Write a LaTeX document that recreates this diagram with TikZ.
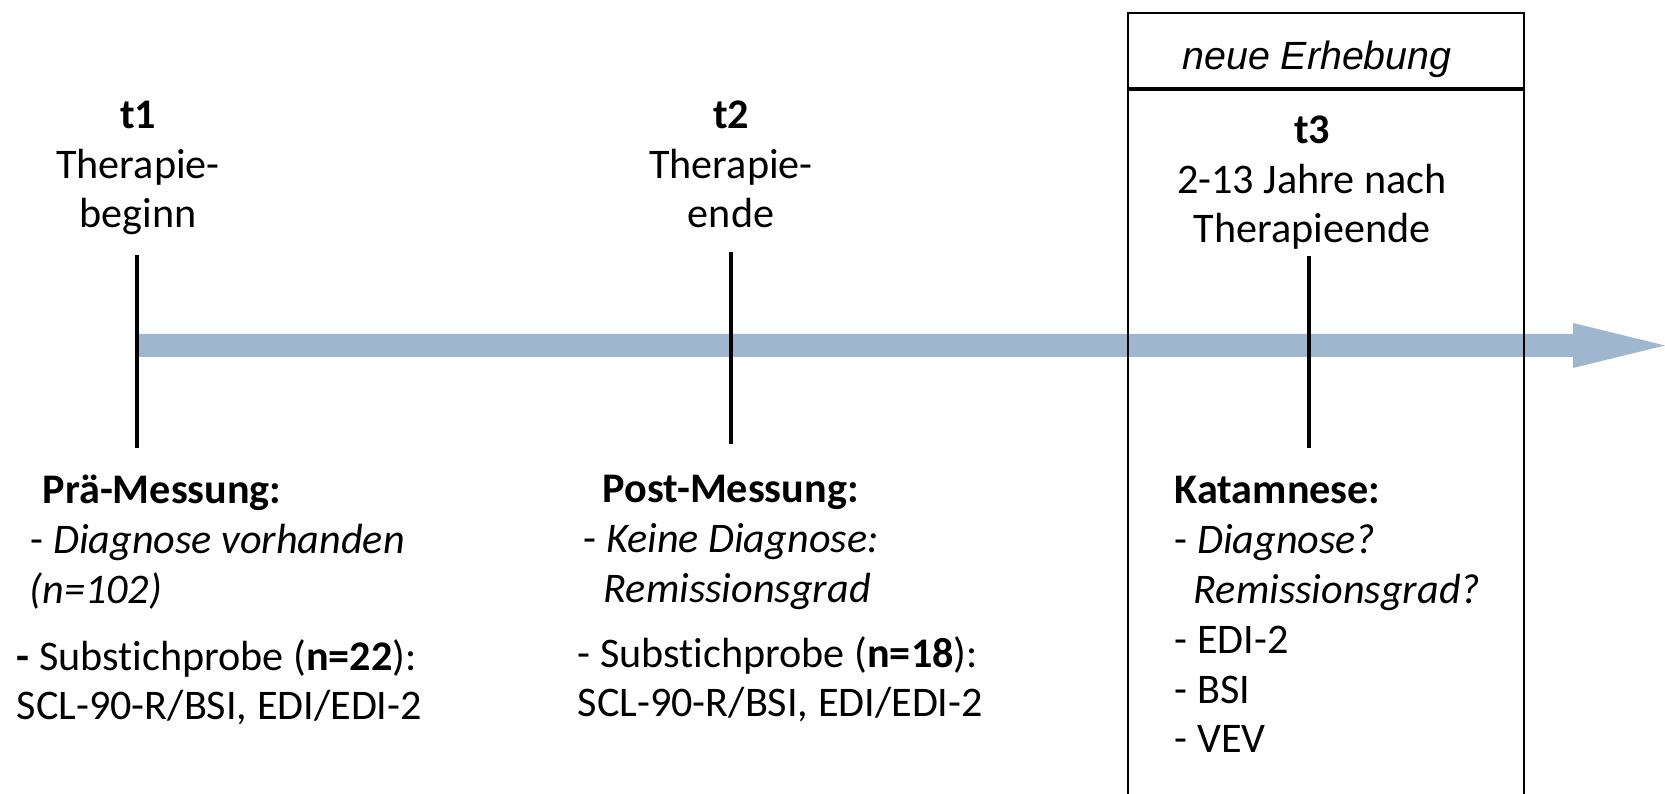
\documentclass[tikz,border=0pt]{standalone}
\usepackage{fontspec}
\setmainfont{Carlito}[Ligatures={NoCommon,NoContextual},RawFeature={-liga;-clig;-dlig}]
\newfontfamily\arialfont{Liberation Sans}
\usepackage{tikz}
\definecolor{ink}{HTML}{000000}
\definecolor{steel}{HTML}{9FB7CE}

\begin{document}
\begin{tikzpicture}[x=1cm,y=1cm,
  every node/.style={inner sep=0pt,font=\fontsize{12}{14.2}\selectfont},
  timelabel/.style={align=center,anchor=base},
  measure/.style={align=left,anchor=base west},
  tickline/.style={line width=0.9pt,ink}]
  \useasboundingbox (0,0) rectangle (16.65,7.94);
  \fill[steel] (1.38,4.37) -- (15.73,4.37) -- (15.73,4.26) -- (16.65,4.485)
    -- (15.73,4.71) -- (15.73,4.60) -- (1.38,4.60) -- cycle;
  \node[timelabel] (t1) at (1.38,5.66) {\textbf{t1}\\Therapie-\\beginn};
  \node[timelabel] (t2) at (7.31,5.66) {\textbf{t2}\\Therapie-\\ende};
  \node[timelabel] (t3) at (13.12,5.51) {\textbf{t3}\\2-13 Jahre nach\\Therapieende};
  \foreach \x/\a/\b in {1.37/5.39/3.46, 7.31/5.42/3.50, 13.09/5.38/3.46}
    \draw[tickline] (\x,\a) -- (\x,\b);
  \node[measure] (pre) at (0.16,0.74) {\hspace{0.26cm}\textbf{Prä-Messung:}\\
    \hspace{0.14cm}- \textit{Diagnose vorhanden}\\
    \hspace{0.13cm}\textit{(n=102)}\\[0.17cm]
    \textbf{-} Subst\kern0pt ichprobe (\textbf{n=22}):\\
    SCL-90-R/BSI, EDI/EDI-2};
  \node[measure] (post) at (5.77,0.77) {\hspace{0.25cm}\textbf{Post-Messung:}\\
    \hspace{0.06cm}- \textit{Keine Diagnose:}\\
    \hspace{0.26cm}\textit{Remissionsgrad}\\[0.15cm]
    - Subst\kern0pt ichprobe (\textbf{n=18}):\\
    SCL-90-R/BSI, EDI/EDI-2};
  \node[measure] (kat) at (11.74,0.41) {\textbf{Katamnese:}\\
    - \textit{Diagnose?}\\
    \hspace{0.19cm}\textit{Remissionsgrad?}\\
    - EDI-2\\
    - BSI\\
    - VEV};
  \draw[line width=0.5pt,ink] (11.28,0) -- (11.28,7.81) -- (15.24,7.81) -- (15.24,0);
  \draw[line width=1.1pt,ink] (11.28,7.05) -- (15.24,7.05);
  \node[font=\arialfont\itshape\fontsize{11.2}{13}\selectfont,anchor=base] (neu) at (13.17,7.24) {neue Erhebung};
\end{tikzpicture}
\end{document}
